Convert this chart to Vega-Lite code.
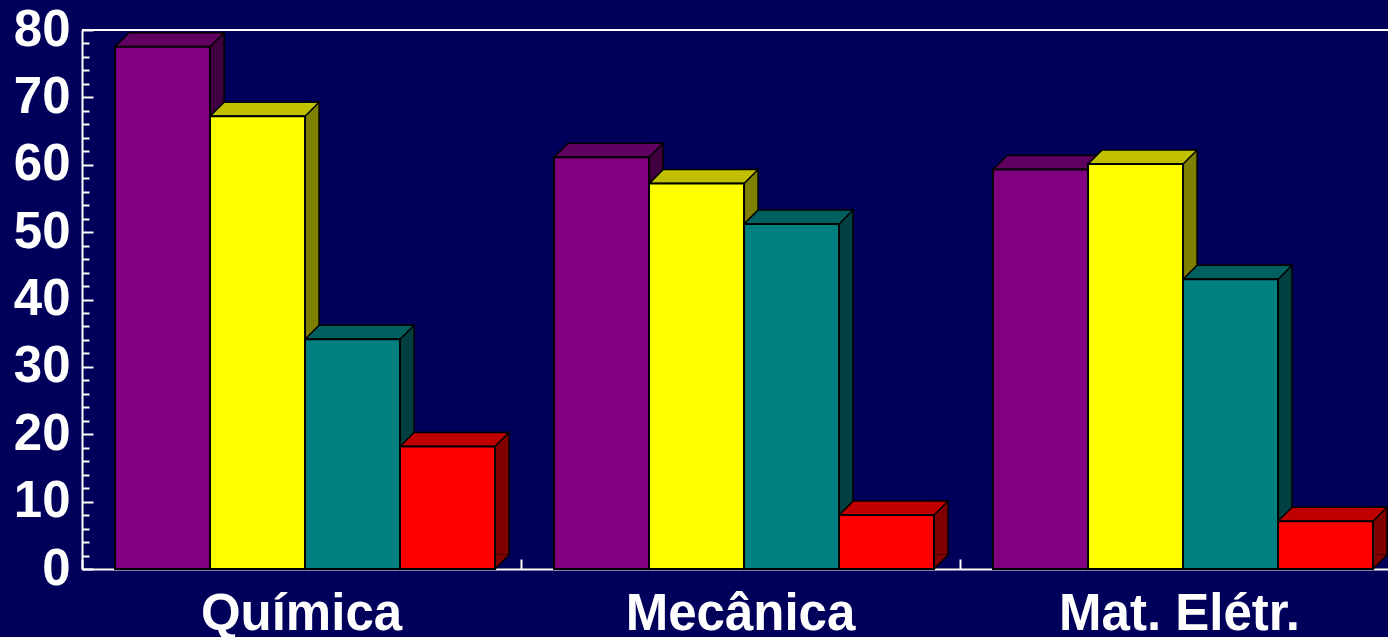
{
  "$schema": "https://vega.github.io/schema/vega-lite/v6.json",
  "autosize": {"type": "none"},
  "width": 1306,
  "height": 539,
  "padding": {"left": 82, "top": 30, "right": 0, "bottom": 68},
  "background": "#00005a",
  "config": {
    "view": {"stroke": null},
    "font": "Liberation Sans",
    "axisX": {
      "domainColor": "white", "domainWidth": 2,
      "tickColor": "white", "tickWidth": 2, "tickSize": -10,
      "labelColor": "white", "labelFont": "Liberation Sans", "labelFontSize": 51, "labelFontWeight": "bold",
      "labelPadding": 30, "labelAngle": 0, "bandPosition": 0, "labelLimit": 0, "grid": false
    },
    "axisY": {
      "domainColor": "white", "domainWidth": 2,
      "tickColor": "white", "tickWidth": 2,
      "labelColor": "white", "labelFont": "Liberation Sans", "labelFontSize": 51, "labelFontWeight": "bold",
      "labelPadding": 23, "labelOverlap": false, "grid": false
    }
  },
  "data": {
    "values": [
      {"group": "Química", "series": "A", "value": 77.5},
      {"group": "Química", "series": "B", "value": 67.2},
      {"group": "Química", "series": "C", "value": 34.1},
      {"group": "Química", "series": "D", "value": 18.2},
      {"group": "Mecânica", "series": "A", "value": 61.1},
      {"group": "Mecânica", "series": "B", "value": 57.2},
      {"group": "Mecânica", "series": "C", "value": 51.2},
      {"group": "Mecânica", "series": "D", "value": 8.0},
      {"group": "Mat. Elétr.", "series": "A", "value": 59.3},
      {"group": "Mat. Elétr.", "series": "B", "value": 60.1},
      {"group": "Mat. Elétr.", "series": "C", "value": 43.0},
      {"group": "Mat. Elétr.", "series": "D", "value": 7.1}
    ]
  },
  "resolve": {"scale": {"color": "independent", "xOffset": "independent"}},
  "layer": [
    {
      "mark": {"type": "bar", "width": 14, "yOffset": -14, "y2Offset": -14, "stroke": "black", "strokeWidth": 1.5},
      "encoding": {
        "x": {"field": "group", "type": "nominal", "sort": ["Química", "Mecânica", "Mat. Elétr."], "title": null, "scale": {"range": [0, 1317], "paddingInner": 0, "paddingOuter": 0}},
        "xOffset": {"field": "series", "type": "nominal", "sort": ["A", "B", "C", "D"], "scale": {"type": "band", "range": [54.5, 493.5], "paddingInner": 0, "paddingOuter": 0.3105, "align": 0.56}},
        "y": {"field": "value", "type": "quantitative", "title": null, "scale": {"domain": [0, 80], "nice": false}},
        "y2": {"datum": 0},
        "color": {"field": "series", "type": "nominal", "legend": null, "scale": {"domain": ["A", "B", "C", "D"], "range": ["#400040", "#808000", "#004040", "#800000"]}}
      }
    },
    {
      "mark": {"type": "point", "shape": "M61.5,-14L47.5,0L47.5,-14.8", "size": 4, "filled": true, "opacity": 1, "stroke": "black", "strokeWidth": 1.5},
      "encoding": {
        "x": {"field": "group", "type": "nominal", "sort": ["Química", "Mecânica", "Mat. Elétr."], "title": null, "scale": {"range": [0, 1317], "paddingInner": 0, "paddingOuter": 0}},
        "xOffset": {"field": "series", "type": "nominal", "sort": ["A", "B", "C", "D"], "scale": {"type": "band", "range": [0, 439], "paddingInner": 0, "paddingOuter": 0.3105, "align": 0.56}},
        "y": {"datum": 0, "type": "quantitative", "title": null, "scale": {"domain": [0, 80], "nice": false}},
        "color": {"field": "series", "type": "nominal", "legend": null, "scale": {"domain": ["A", "B", "C", "D"], "range": ["#400040", "#808000", "#004040", "#800000"]}}
      }
    },
    {
      "mark": {"type": "point", "shape": "M-47.5,0L47.5,0L61.5,-14L-33.5,-14Z", "size": 4, "filled": true, "opacity": 1, "stroke": "black", "strokeWidth": 1.5},
      "encoding": {
        "x": {"field": "group", "type": "nominal", "sort": ["Química", "Mecânica", "Mat. Elétr."], "title": null, "scale": {"range": [0, 1317], "paddingInner": 0, "paddingOuter": 0}},
        "xOffset": {"field": "series", "type": "nominal", "sort": ["A", "B", "C", "D"], "scale": {"type": "band", "range": [0, 439], "paddingInner": 0, "paddingOuter": 0.3105, "align": 0.56}},
        "y": {"field": "value", "type": "quantitative", "title": null, "scale": {"domain": [0, 80], "nice": false}},
        "color": {"field": "series", "type": "nominal", "legend": null, "scale": {"domain": ["A", "B", "C", "D"], "range": ["#600060", "#c0c000", "#006060", "#c00000"]}}
      }
    },
    {
      "mark": {"type": "bar", "stroke": "black", "strokeWidth": 2},
      "encoding": {
        "x": {"field": "group", "type": "nominal", "sort": ["Química", "Mecânica", "Mat. Elétr."], "title": null, "scale": {"range": [0, 1317], "paddingInner": 0, "paddingOuter": 0}},
        "xOffset": {"field": "series", "type": "nominal", "sort": ["A", "B", "C", "D"], "scale": {"type": "band", "range": [0, 439], "paddingInner": 0, "paddingOuter": 0.3105, "align": 0.56}},
        "y": {
          "field": "value", "type": "quantitative", "title": null,
          "scale": {"domain": [0, 80], "nice": false},
          "axis": {
            "values": [0, 2, 4, 6, 8, 10, 12, 14, 16, 18, 20, 22, 24, 26, 28, 30, 32, 34, 36, 38, 40, 42, 44, 46, 48, 50, 52, 54, 56, 58, 60, 62, 64, 66, 68, 70, 72, 74, 76, 78, 80],
            "tickCount": 100,
            "labelOverlap": false,
            "labelSeparation": 0,
            "labelExpr": "datum.value % 10 === 0 ? datum.label : ''",
            "tickSize": {"condition": {"test": "datum.value % 10 === 0", "value": -11}, "value": -7}
          }
        },
        "color": {"field": "series", "type": "nominal", "legend": null, "scale": {"domain": ["A", "B", "C", "D"], "range": ["#800080", "#ffff00", "#008080", "#ff0000"]}}
      }
    },
    {
      "mark": {"type": "rule", "color": "white", "strokeWidth": 2},
      "encoding": {
        "y": {"datum": 80, "type": "quantitative", "title": null, "scale": {"domain": [0, 80], "nice": false}}
      }
    }
  ]
}
